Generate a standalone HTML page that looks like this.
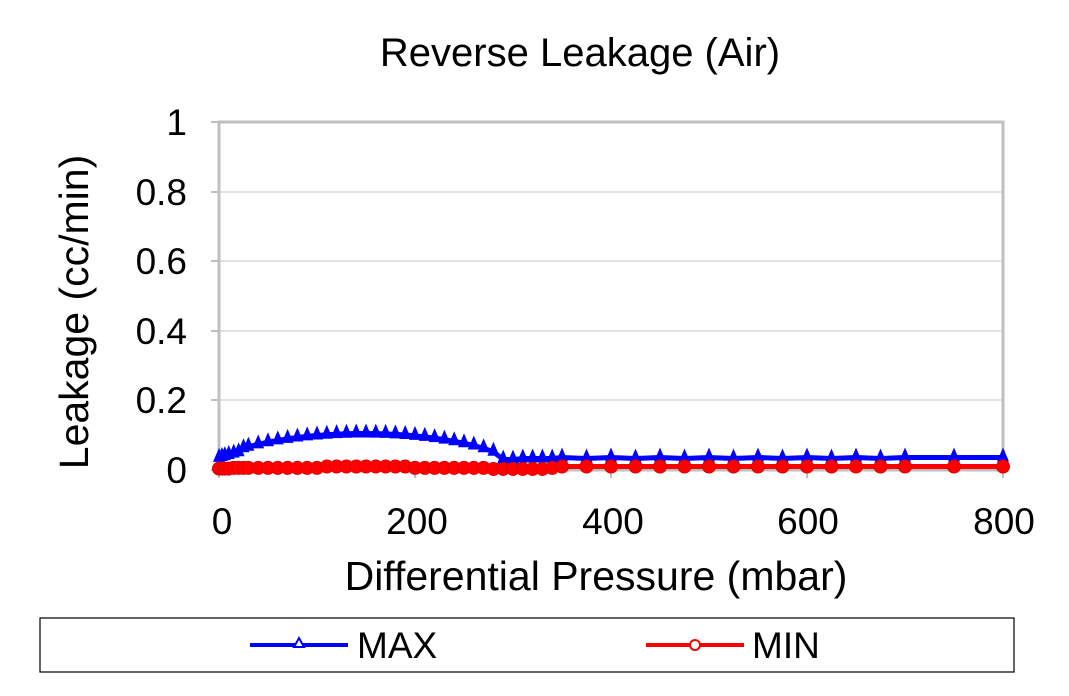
<!DOCTYPE html>
<html><head><meta charset="utf-8"><style>
body{margin:0;background:#fff;}
svg{display:block;font-family:"Liberation Sans",Arial,sans-serif;}
</style></head><body>
<svg id="s" width="1069" height="696" xmlns="http://www.w3.org/2000/svg">
<rect width="1069" height="696" fill="#fff"/>
<text x="580" y="66" font-size="40" text-anchor="middle" fill="#000">Reverse Leakage (Air)</text>
<g stroke="#d9d9d9" stroke-width="1.5">
<line x1="219" y1="192" x2="1003" y2="192"/>
<line x1="219" y1="261" x2="1003" y2="261"/>
<line x1="219" y1="331" x2="1003" y2="331"/>
<line x1="219" y1="400" x2="1003" y2="400"/>
</g>
<rect x="219" y="122" width="784" height="348" fill="none" stroke="#bfbfbf" stroke-width="3"/>
<g stroke="#bfbfbf" stroke-width="2">
<line x1="211" y1="122" x2="219" y2="122"/><line x1="211" y1="192" x2="219" y2="192"/>
<line x1="211" y1="261" x2="219" y2="261"/><line x1="211" y1="331" x2="219" y2="331"/>
<line x1="211" y1="400" x2="219" y2="400"/><line x1="211" y1="470" x2="219" y2="470"/>
<line x1="219" y1="470" x2="219" y2="478"/><line x1="415" y1="470" x2="415" y2="478"/>
<line x1="611" y1="470" x2="611" y2="478"/><line x1="807" y1="470" x2="807" y2="478"/>
<line x1="1003" y1="470" x2="1003" y2="478"/>
</g>
<g font-size="37" text-anchor="end" fill="#000">
<text x="187" y="135">1</text><text x="187" y="205">0.8</text><text x="187" y="274">0.6</text>
<text x="187" y="344">0.4</text><text x="187" y="413">0.2</text><text x="187" y="483">0</text>
</g>
<g font-size="37" text-anchor="middle" fill="#000">
<text x="222" y="534">0</text><text x="417" y="534">200</text><text x="613" y="534">400</text>
<text x="808" y="534">600</text><text x="1004" y="534">800</text>
</g>
<text x="596" y="590" font-size="41" text-anchor="middle" fill="#000">Differential Pressure (mbar)</text>
<text transform="translate(88,312) rotate(-90)" font-size="41" text-anchor="middle" fill="#000">Leakage (cc/min)</text>
<g id="data"></g>
<rect x="40" y="618" width="974" height="54" fill="none" stroke="#000" stroke-width="1.2"/>
<line x1="250" y1="645" x2="348" y2="645" stroke="#0000ff" stroke-width="4"/>
<polygon points="299,638 304,647 294,647" fill="#fff" stroke="#0000ff" stroke-width="2"/>
<text x="357" y="658" font-size="37" fill="#000">MAX</text>
<line x1="646" y1="645" x2="744" y2="645" stroke="#ff0000" stroke-width="4"/>
<circle cx="695" cy="645" r="5" fill="#fff" stroke="#ff0000" stroke-width="2"/>
<text x="752" y="658" font-size="37" fill="#000">MIN</text>
</svg>
<script>
var g=document.getElementById('data'),NS='http://www.w3.org/2000/svg';
function X(p){return 219+p*0.98}function Y(v){return 470-v*348}
function maxv(p){
 if(p<=20) return 0.035+p*0.0008;
 if(p<=290){var b=Math.sin(Math.PI*Math.min(1,Math.max(0,(p-5)/285)));return 0.03+0.075*Math.pow(b,0.55);}
 return 0.03;
}
var px=[0,3,6,10,15,20,25,30];for(var p=40;p<=350;p+=10)px.push(p);for(p=375;p<=700;p+=25)px.push(p);px.push(750,800);
var mx=[],mn=[];
px.forEach(function(p){var v=maxv(p);if(p>300){v=0.03+((p/25)%2?0.003:0.006);}mx.push([X(p),Y(v)]);
 var m=0.006+(p>100&&p<200?0.004:0);if(p<15)m=0.004;if(p>=280&&p<=330)m=0.003;if(p>=350)m=0.01;mn.push([X(p),Y(m)]);});
function line(pts,c){var e=document.createElementNS(NS,'polyline');e.setAttribute('points',pts.map(function(a){return a.join(',')}).join(' '));e.setAttribute('fill','none');e.setAttribute('stroke',c);e.setAttribute('stroke-width','5');g.appendChild(e);}
line(mx,'#0000ff');line(mn,'#ff0000');
mx.forEach(function(a){var e=document.createElementNS(NS,'polygon');e.setAttribute('points',a[0]+','+(a[1]-10)+' '+(a[0]+6)+','+(a[1]+4)+' '+(a[0]-6)+','+(a[1]+4));e.setAttribute('fill','#0000ff');g.appendChild(e);});
mn.forEach(function(a){var e=document.createElementNS(NS,'circle');e.setAttribute('cx',a[0]);e.setAttribute('cy',a[1]);e.setAttribute('r','6.5');e.setAttribute('fill','#ff0000');e.setAttribute('stroke','#e00000');g.appendChild(e);});
</script>
</body></html>
